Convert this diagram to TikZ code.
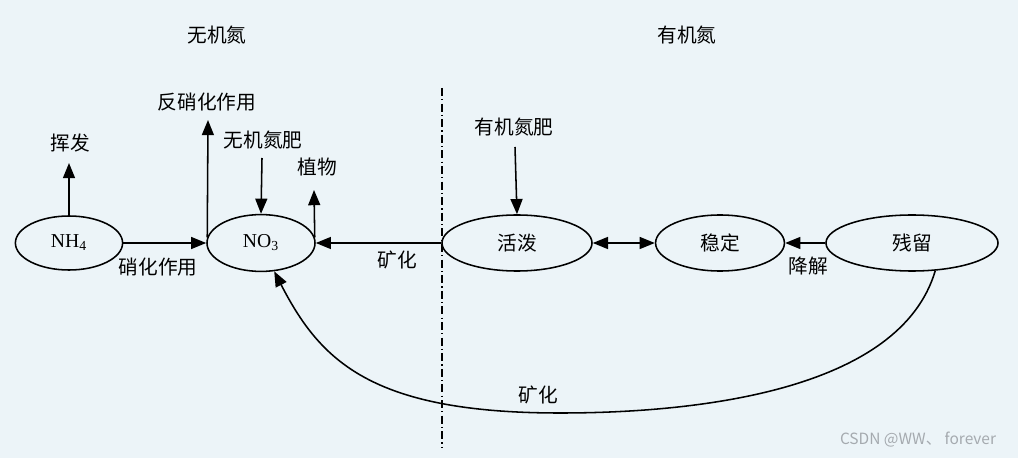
\documentclass[tikz,border=0pt]{standalone}
\usepackage{fontspec}
\setmainfont{Liberation Serif}
\newfontfamily\cjk{Noto Sans CJK SC}
\usepackage{xcolor}
\usepackage{tikz}
\usetikzlibrary{shapes,arrows.meta,positioning,calc}

\definecolor{paper}{RGB}{236,244,248}
\definecolor{mark}{RGB}{165,170,175}

\tikzset{
  tip/.tip={Triangle[length=3.8mm,width=3mm]},
  pool/.style={draw,ellipse,line width=1.1pt,inner sep=0pt},
  flow/.style={line width=1.1pt,-tip},
  lbl/.style={font=\cjk\fontsize{14}{16}\selectfont,inner sep=1pt}
}

\begin{document}
\begin{tikzpicture}[x=0.025cm,y=-0.025cm]
\useasboundingbox[fill=paper] (0,0) rectangle (1018,458);

% pools
\node[pool,minimum width=2.68cm,minimum height=1.35cm] (nh4) at (69,243) {\fontsize{14}{16}\selectfont NH\textsubscript{4}};
\node[pool,minimum width=2.7cm,minimum height=1.42cm] (no3) at (261,243) {\fontsize{14}{16}\selectfont NO\textsubscript{3}};
\node[pool,minimum width=3.75cm,minimum height=1.4cm] (active) at (517,243) {\cjk\fontsize{14}{16}\selectfont 活泼};
\node[pool,minimum width=3.22cm,minimum height=1.4cm] (stable) at (720,243) {\cjk\fontsize{14}{16}\selectfont 稳定};
\node[pool,minimum width=4.3cm,minimum height=1.4cm] (residue) at (912,243) {\cjk\fontsize{14}{16}\selectfont 残留};

% titles
\node[lbl] (inorg) at (217,35) {无机氮};
\node[lbl] (org) at (687,35) {有机氮};

% labels
\node[lbl] (volat) at (70,143) {挥发};
\node[lbl] (denit) at (207,102) {反硝化作用};
\node[lbl] (minfert) at (263,140) {无机氮肥};
\node[lbl] (plant) at (317,167) {植物};
\node[lbl] (nitri) at (158,267) {硝化作用};
\node[lbl] (miner) at (397,260) {矿化};
\node[lbl] (orgfert) at (514,127) {有机氮肥};
\node[lbl] (decomp) at (808,266) {降解};
\node[lbl] (miner2) at (538,395) {矿化};

\coordinate (volatTip) at (69,163);
\coordinate (denitTip) at (208,120);
\coordinate (plantTip) at (314,190);
\coordinate (minfertTop) at (262,158);
\coordinate (orgfertTop) at (515,147);
\coordinate (low) at (560,413);

% losses and inputs
\draw[flow] (nh4.north) -- (volatTip);
\draw[flow] (no3.174) -- (denitTip);
\draw[flow] (no3.6) -- (plantTip);
\draw[flow] (minfertTop) -- (no3.north);
\draw[flow] (orgfertTop) -- (active.north);

% transfers
\draw[flow] (nh4.east) -- (no3.west);
\draw[flow] (active.west) -- (no3.east);
\draw[flow,tip-tip] (active.east) -- (stable.west);
\draw[flow] (residue.west) -- (stable.east);
\draw[flow] (residue.310) .. controls (900,390) and (700,413) .. (low)
  .. controls (370,413) and (320,360) .. (no3.295);

% divider
\draw[line width=0.9pt,dash pattern=on 0.2cm off 0.08cm on 0.03cm off 0.08cm] (442,88) -- (442,448);

\node[font=\fontspec{Noto Sans CJK SC}\fontsize{11}{13}\selectfont,text=mark] (wm) at (918,440) {CSDN @WW、 forever};
\end{tikzpicture}
\end{document}
